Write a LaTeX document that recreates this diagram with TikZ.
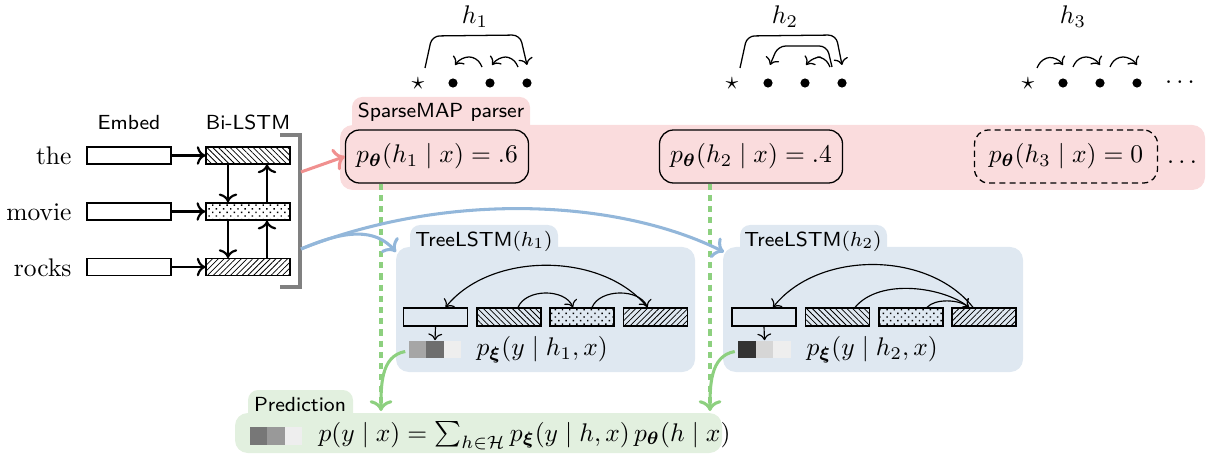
\documentclass[tikz,border=0pt]{standalone}
\usepackage{amsmath,amssymb}
\usetikzlibrary{patterns.meta,calc,arrows.meta}
\newdimen\pxu \pxu=0.3922pt
\definecolor{pinkbg}{HTML}{FADCDD}
\definecolor{bluebg}{HTML}{DFE8F1}
\definecolor{greenbg}{HTML}{E2F0DF}
\definecolor{pinkarr}{HTML}{F0908F}
\definecolor{bluearr}{HTML}{93B7DA}
\definecolor{greenarr}{HTML}{8DD07F}
\definecolor{brk}{HTML}{808080}
\definecolor{sqA}{HTML}{A6A6A6}
\definecolor{sqB}{HTML}{6E6E6E}
\definecolor{sqC}{HTML}{EEEEEE}
\definecolor{sqD}{HTML}{333333}
\definecolor{sqE}{HTML}{D6D6D6}
\definecolor{sqF}{HTML}{777777}
\definecolor{sqG}{HTML}{999999}
\tikzset{
  rect/.style={draw, line width=0.5pt, inner sep=0pt, minimum width=84*\pxu, minimum height=17*\pxu},
  trect/.style={draw, line width=0.5pt, inner sep=0pt, minimum width=64*\pxu, minimum height=18*\pxu},
  hatchA/.style={pattern={Lines[angle=-45,distance=1.6pt,line width=0.3pt]}},
  hatchB/.style={pattern={Lines[angle=45,distance=1.6pt,line width=0.3pt]}},
  dotsP/.style={pattern={Dots[angle=45,distance=2pt,radius=0.4pt]}},
  sq/.style={inner sep=0pt, minimum size=17.5*\pxu},
  lbl/.style={font=\sffamily\footnotesize, inner sep=0pt},
  word/.style={inner sep=0pt, anchor=east},
  pnode/.style={draw, line width=0.5pt, rounded corners=5.5pt, inner sep=0pt, minimum width=183*\pxu, minimum height=53*\pxu},
  dotn/.style={circle, fill=black, inner sep=0pt, minimum size=3.6pt},
  arr/.style={->, line width=0.85pt},
  dep/.style={->, line width=0.5pt, rounded corners=3pt},
  tarc/.style={->, line width=0.45pt},
  bigarr/.style={->, line width=1.2pt},
  gdash/.style={greenarr, line width=1.2pt, dash pattern=on 2.4pt off 2pt},
}
\newcommand{\deparc}[7]{\draw[dep] ($(#1)+(#2,-16)$) -- ($(#1)+(#3,-#7)$) -- ($(#4)+(#5,-#7)$) -- ($(#4)+(#6,-18)$);}
\begin{document}
\begin{tikzpicture}[x=0.3922pt,y=-0.3922pt]
\useasboundingbox (0,0) rectangle (1207,454);
% ---------- backgrounds
\fill[pinkbg, rounded corners=4pt] (352,97) rectangle (530,140);
\fill[pinkbg, rounded corners=5pt] (340,125) rectangle (1205,190);
\fill[bluebg, rounded corners=4pt] (410,225) rectangle (558,262);
\fill[bluebg, rounded corners=5pt] (396,247) rectangle (695,372);
\fill[bluebg, rounded corners=4pt] (740,225) rectangle (887,262);
\fill[bluebg, rounded corners=5pt] (723,247) rectangle (1023,372);
\fill[greenbg, rounded corners=4pt] (248,390) rectangle (353,425);
\fill[greenbg, rounded corners=5pt] (235,413) rectangle (722,453);
% ---------- labels
\node[lbl] (lemb) at (129,123) {Embed};
\node[lbl] (lbil) at (248,122) {Bi-LSTM};
\node[lbl] (lsp) at (441,112) {SparseMAP parser};
\node[lbl] (ltr1) at (484,241) {TreeLSTM$(h_1)$};
\node[lbl] (ltr2) at (813,241) {TreeLSTM$(h_2)$};
\node[lbl] (lpred) at (300,405) {Prediction};
% ---------- words and encoders
\node[word] (w1) at (72,156) {the};
\node[word] (w2) at (72,212) {movie};
\node[word] (w3) at (72,268) {rocks};
\node[rect] (e1) at (129,155.5) {};
\node[rect] (e2) at (129,211.5) {};
\node[rect] (e3) at (129,267) {};
\node[rect, hatchA] (b1) at (248,155.5) {};
\node[rect, dotsP] (b2) at (248,211.5) {};
\node[rect, hatchB] (b3) at (248,267) {};
\draw[arr] (e1) -- (b1);
\draw[arr] (e2) -- (b2);
\draw[arr] (e3) -- (b3);
\draw[arr] ($(b1.south)+(-20,0)$) -- ($(b2.north)+(-20,0)$);
\draw[arr] ($(b2.south)+(-20,0)$) -- ($(b3.north)+(-20,0)$);
\draw[arr] ($(b3.north)+(19,0)$) -- ($(b2.south)+(19,0)$);
\draw[arr] ($(b2.north)+(19,0)$) -- ($(b1.south)+(19,0)$);
% bracket
\coordinate (bt) at (300,135);
\coordinate (bb) at (300,287);
\draw[brk, line width=1.4pt] ($(bt)+(-20,0)$) -- (bt) -- (bb) -- ($(bb)+(-20,0)$);
\coordinate (bred) at (301,172);
\coordinate (bblue) at (301,249);
% ---------- parser nodes
\node[pnode] (p1) at (437,156.5) {$p_{\boldsymbol\theta}(h_1 \mid x) = .6$};
\node[pnode] (p2) at (751,156.5) {$p_{\boldsymbol\theta}(h_2 \mid x) = .4$};
\node[pnode, dash pattern=on 2.4pt off 1.6pt] (p3) at (1066,156.5) {$p_{\boldsymbol\theta}(h_3 \mid x) = 0$};
\node[anchor=base, inner sep=0pt] (pdots) at (1182,164) {$\ldots$};
% ---------- trees
\node[inner sep=0pt] (hl1) at (475,17) {$h_1$};
\node[inner sep=0pt] (hl2) at (785,17) {$h_2$};
\node[inner sep=0pt] (hl3) at (1073,17) {$h_3$};
\node[inner sep=0pt] (s1) at (418,84) {$\star$};
\node[dotn] (d11) at (453,83) {};
\node[dotn] (d12) at (490,83) {};
\node[dotn] (d13) at (527,83) {};
\node[inner sep=0pt] (s2) at (732,84) {$\star$};
\node[dotn] (d21) at (768,83) {};
\node[dotn] (d22) at (805,83) {};
\node[dotn] (d23) at (842,83) {};
\node[inner sep=0pt] (s3) at (1028,84) {$\star$};
\node[dotn] (d31) at (1063,83) {};
\node[dotn] (d32) at (1100,83) {};
\node[dotn] (d33) at (1137,83) {};
\node[inner sep=0pt] (tdots) at (1182,83) {$\cdots$};
% h1
\deparc{s1}{7}{14}{d13}{-7}{0}{48}
\deparc{d12}{-8}{-13}{d11}{8}{2}{26}
\deparc{d13}{-9}{-14}{d12}{8}{2}{26}
% h2
\deparc{s2}{8}{15}{d23}{-6}{0}{48}
\deparc{d23}{-10}{-15}{d21}{10}{2}{37}
\deparc{d23}{-12}{-17}{d22}{8}{1}{26}
% h3
\deparc{s3}{9}{14}{d31}{-6}{0}{26}
\deparc{d31}{10}{15}{d32}{-6}{0}{26}
\deparc{d32}{10}{15}{d33}{-6}{0}{26}
% ---------- TreeLSTM 1
\node[trect] (t11) at (435.5,317) {};
\node[trect, hatchA] (t12) at (509,317) {};
\node[trect, dotsP] (t13) at (582,317) {};
\node[trect, hatchB] (t14) at (655.5,317) {};
\draw[tarc] ($(t14.north)+(-8,0)$) .. controls +(-45,-56) and +(45,-56) .. ($(t11.north)+(10,0)$);
\draw[tarc] ($(t12.north)+(9,0)$) .. controls +(8,-19) and +(-8,-19) .. ($(t13.north)+(-9,0)$);
\draw[tarc] ($(t13.north)+(10,0)$) .. controls +(8,-19) and +(-8,-19) .. ($(t14.north)+(-8,0)$);
\node[sq, fill=sqA] (q11) at (417.5,349.5) {};
\node[sq, fill=sqB] (q12) at (435,349.5) {};
\node[sq, fill=sqC] (q13) at (452.5,349.5) {};
\draw[tarc] (t11.south) -- (q12.north);
\node[anchor=west, inner sep=0pt] (px1) at (476,350) {$p_{\boldsymbol\xi}(y \mid h_1, x)$};
% ---------- TreeLSTM 2
\node[trect] (t21) at (764,317) {};
\node[trect, hatchA] (t22) at (837.5,317) {};
\node[trect, dotsP] (t23) at (911,317) {};
\node[trect, hatchB] (t24) at (984,317) {};
\draw[tarc] ($(t24.north)+(-11,0)$) .. controls +(-45,-57) and +(45,-57) .. ($(t21.north)+(9,0)$);
\draw[tarc] ($(t22.north)+(17.5,0)$) .. controls +(25,-30) and +(-25,-20) .. ($(t24.north)+(-15,0)$);
\draw[tarc] ($(t23.north)+(16,0)$) .. controls +(8,-9) and +(-10,-8) .. ($(t24.north)+(-15,0)$);
\node[sq, fill=sqD] (q21) at (747,349.5) {};
\node[sq, fill=sqE] (q22) at (764.5,349.5) {};
\node[sq, fill=sqC] (q23) at (782,349.5) {};
\draw[tarc] (t21.south) -- (q22.north);
\node[anchor=west, inner sep=0pt] (px2) at (806,350) {$p_{\boldsymbol\xi}(y \mid h_2, x)$};
% ---------- Prediction
\node[sq, fill=sqF] (q31) at (258.5,436) {};
\node[sq, fill=sqG] (q32) at (276,436) {};
\node[sq, fill=sqC] (q33) at (293.5,436) {};
\node[anchor=west, inner sep=0pt] (pf) at (318,436) {$p(y \mid x) = \sum_{h\in\mathcal{H}} p_{\boldsymbol\xi}(y \mid h, x)\, p_{\boldsymbol\theta}(h \mid x)$};
% ---------- green connectors
\coordinate (g1) at (381,411);
\coordinate (g2) at (710,411);
\draw[gdash] (p1.south -| g1) -- ($(g1)+(0,-6)$);
\draw[gdash] (p2.south -| g2) -- ($(g2)+(0,-6)$);
\draw[bigarr, greenarr] ($(q11.west)+(-3,2)$) to[out=190,in=90] (g1);
\draw[bigarr, greenarr] ($(q21.west)+(-3,2)$) to[out=190,in=90] (g2);
% ---------- pink and blue connectors
\draw[bigarr, pinkarr] (bred) -- (p1.west);
\coordinate (tl1) at (396,252);
\coordinate (tl2) at (724,252);
\draw[bigarr, bluearr] (bblue) .. controls (345,230) and (375,228) .. (tl1);
\draw[bigarr, bluearr] (bblue) .. controls (450,190) and (620,200) .. (tl2);
\end{tikzpicture}
\end{document}
